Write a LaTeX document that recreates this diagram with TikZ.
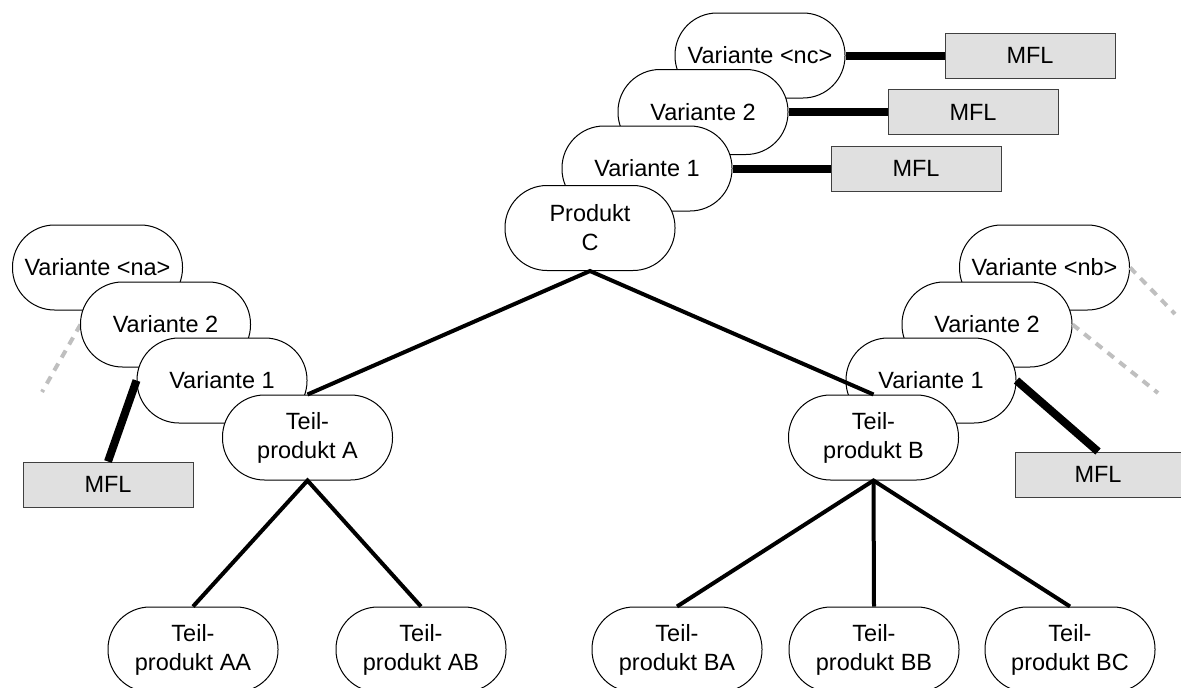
\documentclass[tikz,border=0pt]{standalone}
\usepackage{fontspec}
\setmainfont{Liberation Sans}
\begin{document}
\begin{tikzpicture}[x=1pt,y=-1pt,
  pill/.style={draw, fill=white, line width=1pt, minimum width=170pt,
    minimum height=85pt, rounded corners=42pt, align=center, inner sep=0pt},
  mflbox/.style={draw=black!75, fill=black!12, line width=1pt,
    minimum width=170pt, minimum height=45pt, inner sep=0pt},
  tree/.style={line width=4pt},
  link/.style={line width=8pt},
  ghost/.style={line width=4pt, draw=black!25, dash pattern=on 8pt off 7pt},
  font=\fontsize{23.5}{29}\selectfont]
\useasboundingbox (0,0) rectangle (1181,688);

% upper product with its variants
\node[pill] (vnc) at (760,55.5) {Variante <nc>};
\node[pill] (vc2) at (703,112) {Variante 2};
\node[pill] (vc1) at (647,168.5) {Variante 1};
\node[pill] (pc)  at (590,228) {Produkt\\C};
\node[mflbox] (mnc) at (1030,55.5) {MFL};
\node[mflbox] (mc2) at (973,112) {MFL};
\node[mflbox] (mc1) at (916,168.5) {MFL};
\draw[link] (vnc.east) -- (mnc.west);
\draw[link] (vc2.east) -- (mc2.west);
\draw[link] (vc1.east) -- (mc1.west);

% left part with its variants
\coordinate (gl) at (42,392);
\draw[ghost] (165.5-85,324.5) -- (gl);
\node[pill] (vna) at (97.5,267.5) {Variante <na>};
\node[pill] (va2) at (165.5,324.5) {Variante 2};
\node[pill] (va1) at (222,380.5) {Variante 1};
\node[pill] (pa)  at (307.5,437.5) {Teil-\\produkt A};
\node[mflbox] (ma) at (108,484.5) {MFL};
\draw[link] (va1.west) -- (ma.north);

% right part with its variants
\coordinate (gr1) at (1175,314);
\coordinate (gr2) at (1158,393);
\node[pill] (vnb) at (1044.5,267.5) {Variante <nb>};
\node[pill] (vb2) at (987,324.5) {Variante 2};
\node[pill] (vb1) at (931,380.5) {Variante 1};
\node[pill] (pb)  at (873.5,437.5) {Teil-\\produkt B};
\node[mflbox, minimum width=166pt] (mb) at (1098,474.5) {MFL};
\draw[ghost] (vnb.east) -- (gr1);
\draw[ghost] (vb2.east) -- (gr2);
\draw[link] (vb1.east) -- (mb.north);

% lowest level
\node[pill] (paa) at (193,649.5) {Teil-\\produkt AA};
\node[pill] (pab) at (421,649.5) {Teil-\\produkt AB};
\node[pill] (pba) at (677,649.5) {Teil-\\produkt BA};
\node[pill] (pbb) at (874,649.5) {Teil-\\produkt BB};
\node[pill] (pbc) at (1070,649.5) {Teil-\\produkt BC};

% structure tree
\draw[tree] (pa.north) -- (pc.south) -- (pb.north);
\draw[tree] (paa.north) -- (pa.south) -- (pab.north);
\draw[tree] (pba.north) -- (pb.south) -- (pbc.north);
\draw[tree] (pb.south) -- (pbb.north);
\end{tikzpicture}
\end{document}
